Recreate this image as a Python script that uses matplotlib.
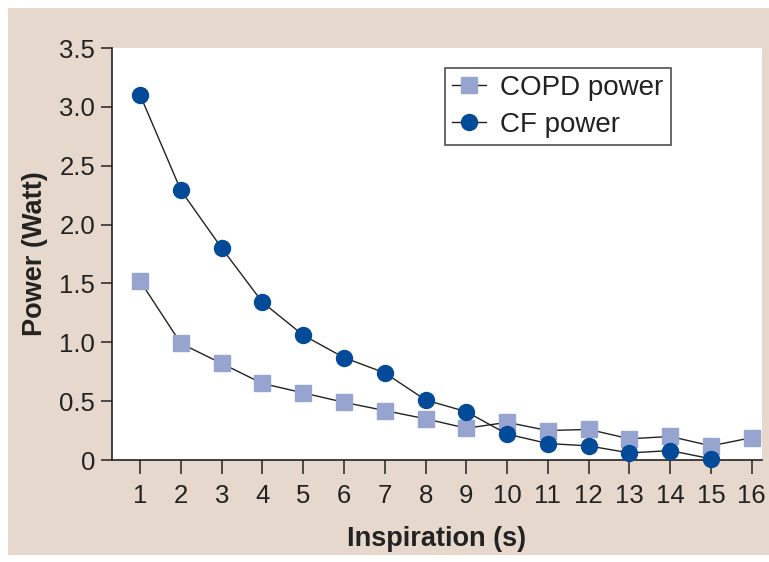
import matplotlib.pyplot as plt
from matplotlib.patches import Rectangle
from matplotlib import font_manager

# Datos
inspiracion = list(range(1, 17))
copd_power = [1.52, 0.99, 0.82, 0.65, 0.57, 0.49, 0.42, 0.35, 0.27, 0.32, 0.25, 0.26, 0.18, 0.20, 0.12, 0.19]
cf_insp = list(range(1, 16))
cf_power = [3.10, 2.29, 1.80, 1.34, 1.06, 0.87, 0.74, 0.51, 0.41, 0.22, 0.14, 0.12, 0.06, 0.08, 0.01]
y_ticks = [0, 0.5, 1.0, 1.5, 2.0, 2.5, 3.0, 3.5]
y_labels = ['0', '0.5', '1.0', '1.5', '2.0', '2.5', '3.0', '3.5']

names = {f.name for f in font_manager.fontManager.ttflist}
fuente = 'Liberation Sans Narrow' if 'Liberation Sans Narrow' in names else 'Liberation Sans'
plt.rcParams['font.family'] = [fuente, 'DejaVu Sans']

fig = plt.figure(figsize=(7.69, 5.62), dpi=100, facecolor='white')
fig.add_artist(Rectangle((8 / 769, 1 - 555 / 562), 1, 547 / 562,
                         transform=fig.transFigure, facecolor='#e6d8cd',
                         edgecolor='none', zorder=-5))
ax = fig.add_axes([112 / 769, 1 - 460 / 562, 650 / 769, 412 / 562])
ax.set_facecolor('white')

ax.plot(inspiracion, copd_power, color='#222222', lw=1.0, marker='s', ms=11.5,
        mfc='#97a4d0', mec='#97a4d0', label='COPD power', clip_on=False, zorder=3)
ax.plot(cf_insp, cf_power, color='#222222', lw=1.0, marker='o', ms=11.5,
        mfc='#034a98', mec='#034a98', label='CF power', clip_on=False, zorder=4)

ax.set_xlim(0.31, 16.25)
ax.set_ylim(0, 3.5)
ax.set_xticks(inspiracion)
ax.set_yticks(y_ticks)
ax.set_yticklabels(y_labels)
for s in ['top', 'right']:
    ax.spines[s].set_visible(False)
for s in ['left', 'bottom']:
    ax.spines[s].set_linewidth(1.2)
    ax.spines[s].set_color('#222222')
ax.tick_params(axis='y', length=8, width=1.1, labelsize=18.5, pad=4, colors='#222222')
ax.tick_params(axis='x', length=10, width=1.1, labelsize=18.5, pad=7, colors='#222222')

ax.set_xlabel('Inspiration (s)', fontsize=19.5, fontweight='bold', labelpad=13, color='#222222')
ax.set_ylabel('Power (Watt)', fontsize=19.5, fontweight='bold', labelpad=8, color='#222222')

leg = ax.legend(loc='upper left', bbox_to_anchor=(0.512, 0.952), fontsize=20,
                frameon=True, fancybox=False, handlelength=1.25, handletextpad=0.5,
                borderpad=0.25, labelspacing=0.4, borderaxespad=0)
leg.get_frame().set_edgecolor('#222222')
leg.get_frame().set_linewidth(1.2)
for t in leg.get_texts():
    t.set_color('#222222')

fig.savefig('out.png', dpi=100, facecolor='white')
